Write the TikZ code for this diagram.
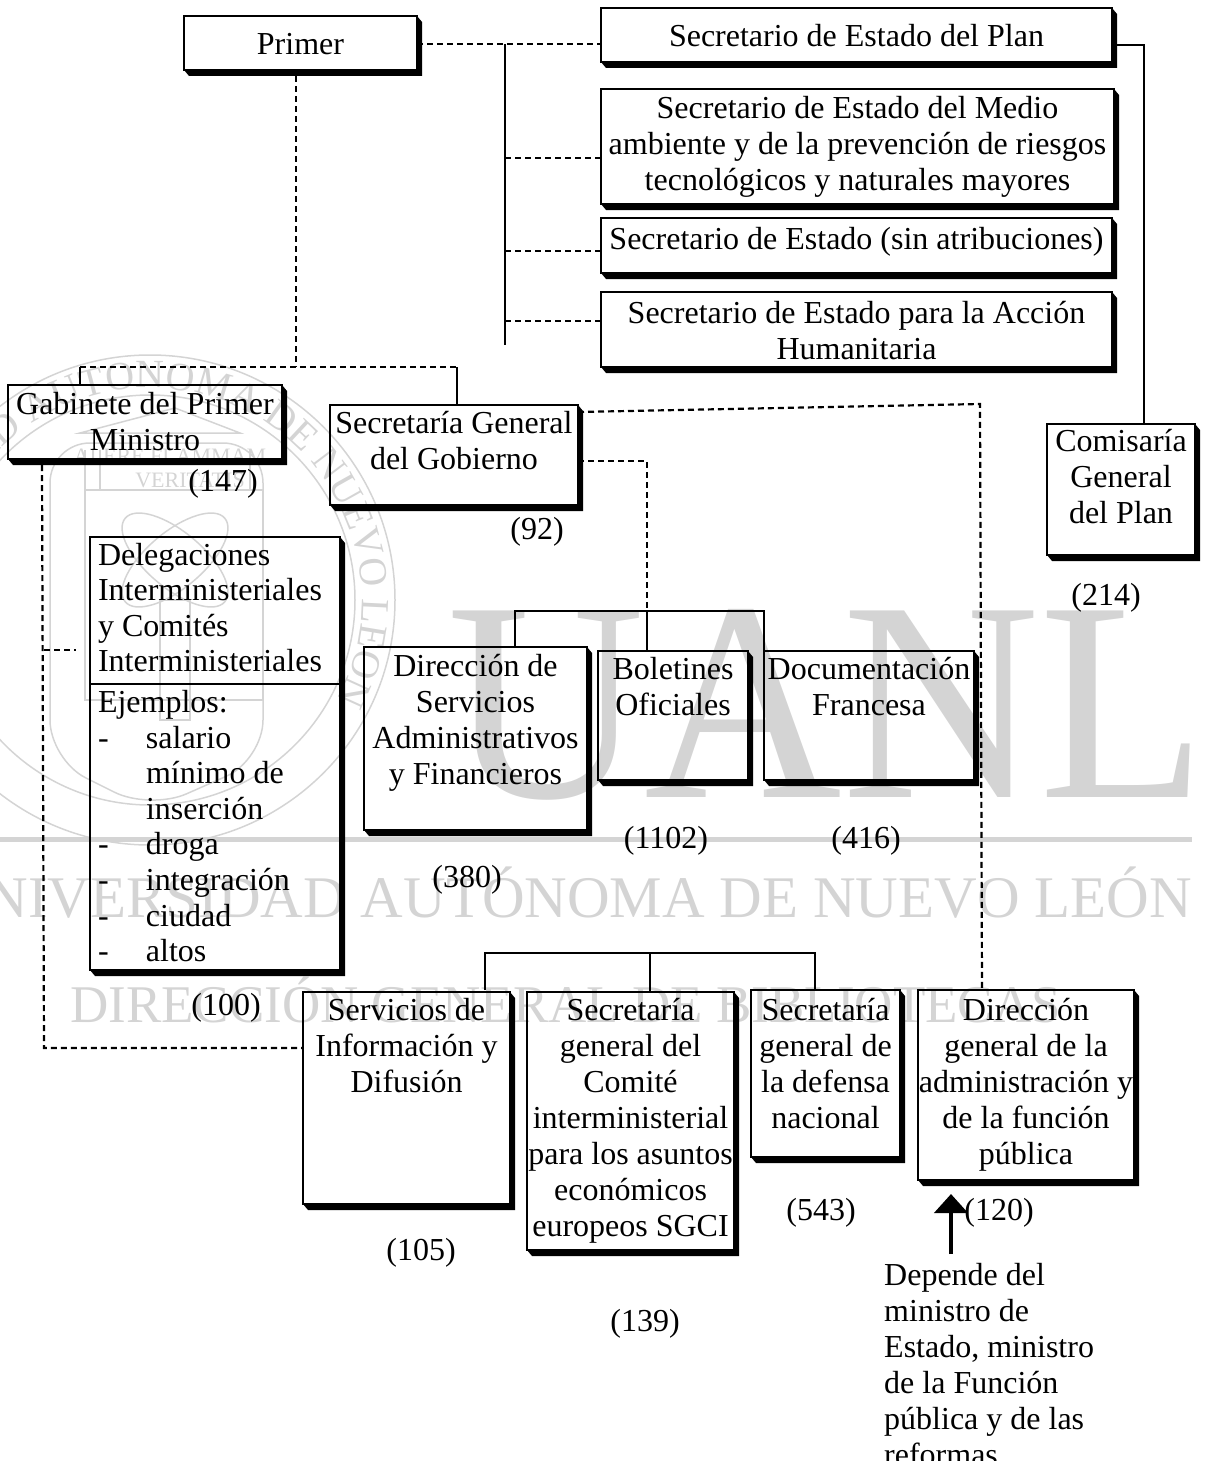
\documentclass[tikz,border=0pt]{standalone}
\usepackage{fontspec}
\setmainfont{Liberation Serif}
\usepackage{tikz}
\usetikzlibrary{arrows.meta}
\usetikzlibrary{decorations.text}
\definecolor{marca}{rgb}{0.83, 0.83, 0.83}
\tikzset{caja/.style = {draw, line width = 2, inner sep = 0, outer sep = 0, anchor = north west}}
\tikzset{punt/.style = {line width = 2.2, dash pattern = on 6 off 4}}
\tikzset{linea/.style = {line width = 1.8}}
\tikzset{cifra/.style = {font = \fontsize{32}{36}\selectfont, inner sep = 0}}
\tikzset{trazo/.style = {marca, line width = 1.5}}
\newcommand{\caja}[7][28]{%
  \node [caja] (#2) at (#3, #4) {\parbox[c][\dimexpr#6pt-#4pt\relax][t]{\dimexpr#5pt-#3pt\relax}{%
    \fontsize{32}{36}\selectfont\centering\vspace*{\dimexpr#1pt-25.2pt\relax}\strut #7}};
  \fill ([shift={(5,6)}]#2.south west) -- (#2.south west) -- (#2.south east) -- (#2.north east)
    -- ([shift={(5,6)}]#2.north east) -- ([shift={(5,6)}]#2.south east) -- cycle;}

\begin{document}
\begin{tikzpicture}[x=1pt, y=-1pt]
  \useasboundingbox (0, 0) rectangle (1205, 1466);
  % sello de fondo
  \begin{scope}
    \clip (0, 0) rectangle (1205, 1466);
    \draw [trazo] (150, 600) circle [radius=245];
    \draw [trazo] (150, 600) circle [radius=205];
    \path [postaction={decorate}, decoration={text along path, text align=center,
        text={|\fontsize{40}{40}\selectfont\color{marca}|UNIVERSIDAD AUTONOMA DE NUEVO LEON}}]
      (150, 600) ++(139:212) arc [start angle=139, end angle=409, radius=212];
    \draw [trazo, rounded corners=40] (50, 443) -- (50, 760) -- (150, 810) -- (263, 760) -- (263, 443) -- cycle;
    \draw [trazo] (85, 490) rectangle (263, 700);
    \draw [trazo] (80, 433) -- (175, 408) -- (240, 433) -- cycle;
    \draw [trazo] (85, 450) -- (85, 490) (100, 450) -- (100, 490) (250, 450) -- (250, 490);
    \draw [trazo] (175, 560) ellipse [x radius=65, y radius=28, rotate=40];
    \draw [trazo] (175, 560) ellipse [x radius=65, y radius=28, rotate=-40];
    \draw [trazo] (160, 600) rectangle (190, 720);
    \node (alere) [text=marca, inner sep=0, font=\fontsize{22}{22}\selectfont] at (170, 456) {ALERE FLAMMAM};
    \node (veritas) [text=marca, inner sep=0, font=\fontsize{22}{22}\selectfont] at (190, 480) {VERITATIS};
    \node (uanl) [text=marca, inner sep=0, anchor=base west, xscale=.96, transform shape,
      font=\fontsize{285}{285}\selectfont] at (447, 797) {UANL};
    \fill [marca] (0, 837) rectangle (1192, 842);
    \node (univ) [text=marca, inner sep=0, anchor=base east, font=\fontsize{59}{59}\selectfont] at (1192, 917)
      {UNIVERSIDAD AUTÓNOMA DE NUEVO LEÓN};
    \node (dgb) [text=marca, inner sep=0, anchor=base west, font=\fontsize{53}{53}\selectfont] at (70, 1022)
      {DIRECCIÓN GENERAL DE BIBLIOTECAS};
  \end{scope}
  % cajas
  \caja[39]{primer}{184}{16}{417}{70}{Primer}
  \caja[39]{plan}{601}{8}{1112}{62}{Secretario de Estado del Plan}
  \caja[30]{medio}{601}{89}{1114}{204}{Secretario de Estado del Medio\\ ambiente y de la prevención de riesgos\\ tecnológicos y naturales mayores}
  \caja[31]{sinat}{601}{218}{1112}{273}{Secretario de Estado (sin atribuciones)}
  \caja[31]{accion}{601}{292}{1112}{367}{Secretario de Estado para la Acción\\ Humanitaria}
  \caja[27]{comisaria}{1047}{424}{1195}{555}{Comisaría\\ General\\ del Plan}
  \caja[29]{gabinete}{8}{385}{282}{459}{Gabinete del Primer\\ Ministro}
  \caja{secgen}{330}{405}{578}{505}{Secretaría General\\ del Gobierno}
  \caja{deleg}{90}{537}{340}{970}{\raggedright\leftskip=8pt\baselineskip=35.6pt Delegaciones\\ Interministeriales\\ y Comités\\ Interministeriales\\[5pt]
    Ejemplos:\\ \makebox[48pt][l]{-}salario\\ \hspace*{48pt}mínimo de\\ \hspace*{48pt}inserción\\
    \makebox[48pt][l]{-}droga\\ \makebox[48pt][l]{-}integración\\ \makebox[48pt][l]{-}ciudad\\ \makebox[48pt][l]{-}altos}
  \caja[29]{dirserv}{364}{647}{587}{830}{Dirección de\\ Servicios\\ Administrativos\\ y Financieros}
  \caja{boletines}{598}{651}{748}{780}{Boletines\\ Oficiales}
  \caja{docum}{764}{651}{974}{780}{Documentación\\ Francesa}
  \caja{servicios}{303}{992}{510}{1204}{Servicios de\\ Información y\\ Difusión}
  \caja{sgci}{527}{992}{734}{1250}{Secretaría\\ general del\\ Comité\\ interministerial\\ para los asuntos\\ económicos\\ europeos SGCI}
  \caja[30]{defensa}{751}{990}{900}{1157}{Secretaría\\ general de\\ la defensa\\ nacional}
  \caja[30]{dirgen}{918}{990}{1134}{1180}{Dirección\\ general de la\\ administración y\\ de la función\\ pública}
  \draw [linea] (deleg.west |- 0,684) -- (deleg.east |- 0,684);
  % cifras
  \node (c147) [cifra] at (223, 484) {(147)};
  \node (c92) [cifra] at (537, 532) {(92)};
  \node (c214) [cifra] at (1106, 598) {(214)};
  \node (c100) [cifra] at (226, 1008) {(100)};
  \node (c380) [cifra] at (467, 880) {(380)};
  \node (c1102) [cifra] at (666, 841) {(1102)};
  \node (c416) [cifra] at (866, 841) {(416)};
  \node (c105) [cifra] at (421, 1253) {(105)};
  \node (c139) [cifra] at (645, 1324) {(139)};
  \node (c543) [cifra] at (821, 1213) {(543)};
  \node (c120) [cifra] at (999, 1213) {(120)};
  \node (nota) [cifra, anchor=north west, align=left] at (884, 1263)
    {Depende del\\ ministro de\\ Estado, ministro\\ de la Función\\ pública y de las\\ reformas};
  \fill [white] (880, 1461) rectangle (1100, 1466);
  % conectores
  \coordinate (j1) at (505, 44);
  \coordinate (j2) at (505, 345);
  \coordinate (j3) at (296, 367);
  \coordinate (j4) at (80, 367);
  \coordinate (j5) at (457, 367);
  \coordinate (j6) at (980, 404);
  \coordinate (j7) at (647, 611);
  \coordinate (j8) at (44, 1048);
  \coordinate (j9) at (650, 953);
  \coordinate (j10) at (1144, 45);
  \coordinate (j11) at (76, 650);
  \coordinate (cola) at (951, 1254);
  \coordinate (punta) at (951, 1194);
  \draw [punt] (primer.east |- j1) -- (j1) -- (plan.west |- j1);
  \draw [linea] (j1) -- (j2);
  \draw [punt] (505, 158) -- (medio.west |- 0,158);
  \draw [punt] (505, 251) -- (sinat.west |- 0,251);
  \draw [punt] (505, 321) -- (accion.west |- 0,321);
  \draw [linea] (plan.east |- j10) -- (j10) -- (j10 |- comisaria.north);
  \draw [punt] (296, 76) -- (j3);
  \draw [punt] (j4) -- (j5);
  \draw [linea] (j4) -- (j4 |- gabinete.north);
  \draw [linea] (j5) -- (j5 |- secgen.north);
  \draw [punt] (secgen.east |- 0,412) -- (j6) -- (982, 990);
  \draw [punt] (secgen.east |- 0,461) -- (647, 461) -- (j7);
  \draw [linea] (515, 647) -- (515, 611) -- (764, 611) -- (764, 651);
  \draw [linea] (j7) -- (647, 651);
  \draw [punt] (42, 465) -- (j8) -- (servicios.west |- j8);
  \draw [punt] (44, 650) -- (j11);
  \draw [linea] (485, 990) -- (485, 953) -- (815, 953) -- (815, 990);
  \draw [linea] (j9) -- (650, 992);
  \draw [line width=4.5, -{Triangle[width=33, length=19]}] (cola) -- (punta);
\end{tikzpicture}
\end{document}
